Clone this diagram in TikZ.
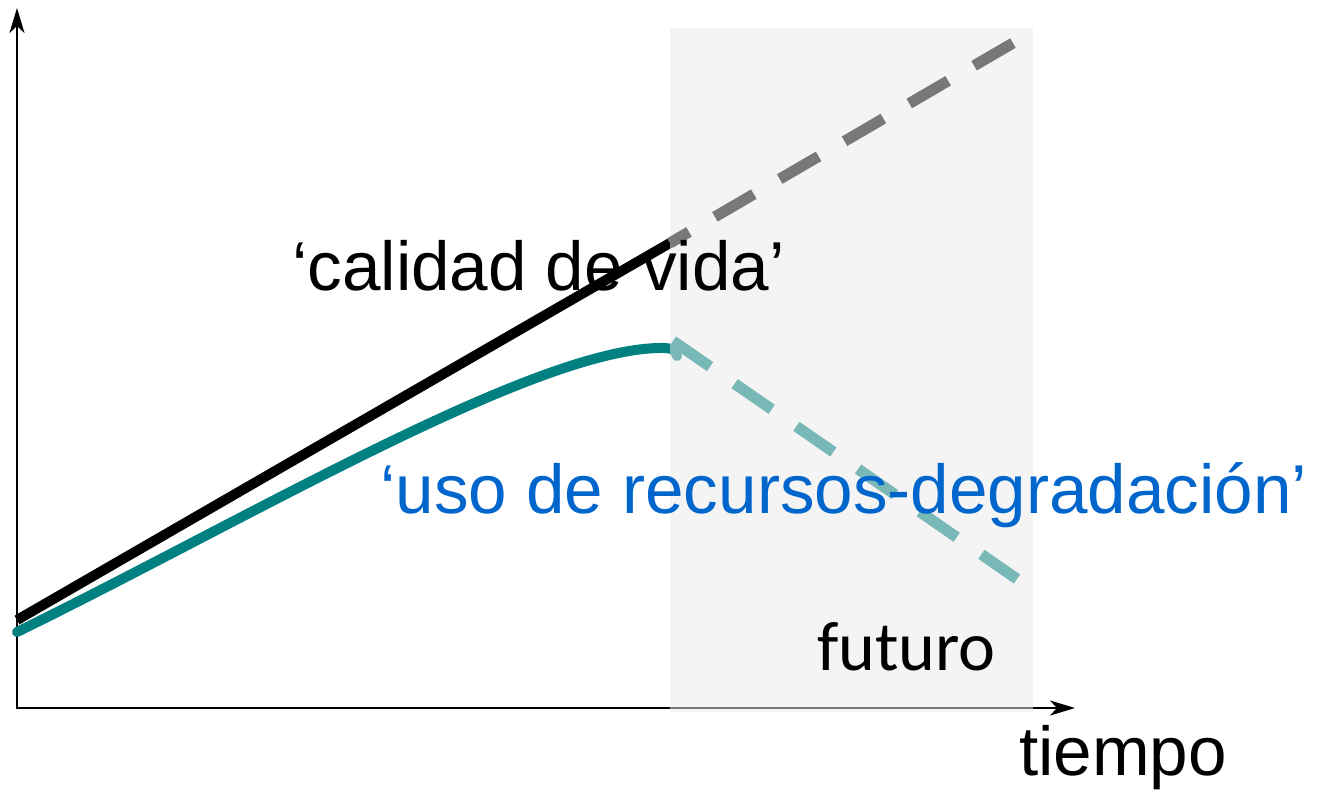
\documentclass[tikz,border=0pt]{standalone}
\usepackage{fontspec}
\setmainfont{Liberation Sans}
\newfontfamily\futfont{Carlito}
\usetikzlibrary{arrows.meta}
\definecolor{tealc}{HTML}{008080}
\definecolor{lteal}{HTML}{78B8B6}
\definecolor{dgray}{HTML}{787878}
\definecolor{shadec}{HTML}{E9E9E9}
\definecolor{bluetxt}{HTML}{0066CC}
\begin{document}
\begin{tikzpicture}[x=1pt,y=-1pt,
  axisline/.style={line width=2.5pt,{Stealth[length=25pt,width=15pt,inset=7pt]}-{Stealth[length=25pt,width=15pt,inset=7pt]}},
  label/.style={anchor=base west,inner sep=0pt,font=\fontsize{69.2}{80}\selectfont},
  dashline/.style={line width=11pt,dash pattern=on 45pt off 30pt}]
\useasboundingbox (0,0) rectangle (1321,796);
% coordinates
\coordinate (ytop) at (17,8);
\coordinate (O) at (17,708);
\coordinate (xend) at (1075,708);
\coordinate (b0) at (17,620);
\coordinate (b1) at (670,243);
\coordinate (g1) at (1013,43);
\coordinate (t0) at (17,632);
\coordinate (t1) at (665,348);
\coordinate (t2) at (677,356);
\coordinate (u0) at (673,341);
\coordinate (u1) at (1017,579);
% axes
\draw[axisline] (ytop) -- (O) -- (xend);
% solid curves
\draw[line width=10pt] (b0) -- (b1);
\draw[tealc,line width=10pt,line cap=round] (t0) .. controls (250,518) and (540,345) .. (t1) .. controls (674,349) .. (t2);
% future region
\fill[shadec,opacity=0.52] (670,28) rectangle (1033,712);
% dashed projections
\draw[dashline,dgray,dash phase=23pt] (b1) -- (g1);
\draw[dashline,lteal] (u0) -- (u1);
% labels
\node[label] (calidad) at (292,290) {‘calidad de vida’};
\node[label,text=bluetxt] (uso) at (380,513) {‘uso de recursos-degradación’};
\node[label,font=\futfont\fontsize{70}{80}\selectfont] (futuro) at (817,670) {futuro};
\node[label] (tiempo) at (1019,775) {tiempo};
\end{tikzpicture}
\end{document}
